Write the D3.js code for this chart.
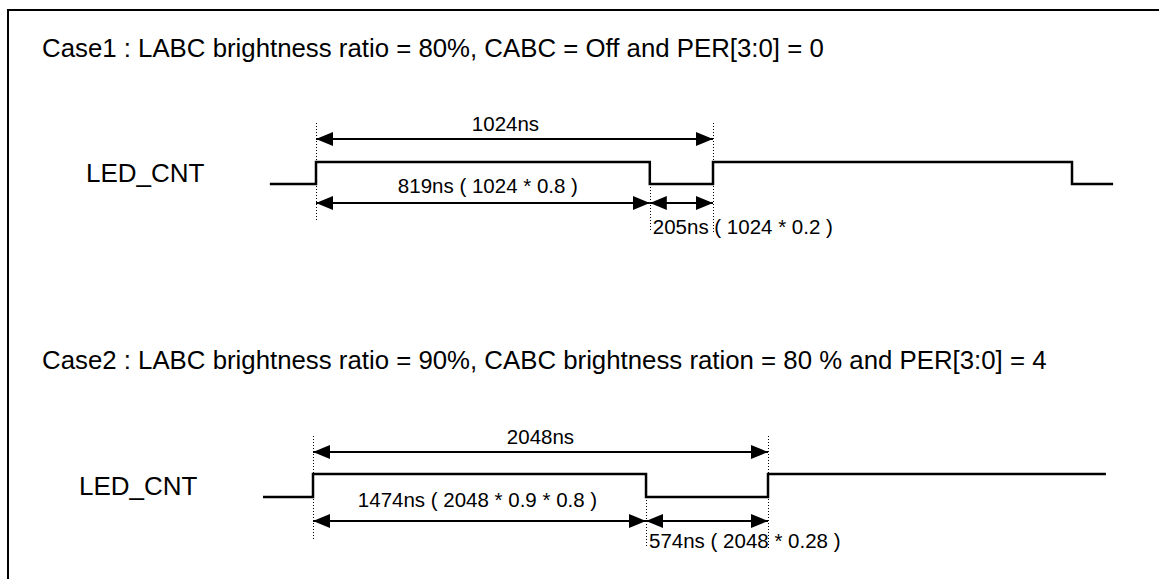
<!DOCTYPE html>
<html>
<head>
  <title>LED_CNT timing</title>
  <style>
    body { margin: 0; background: #fff; }
    svg text { font-family: "Liberation Sans", Arial, sans-serif; fill: #000; }
  </style>
</head>
<body>
<svg width="1159" height="579" class="svg-timing"></svg>
<script src="https://cdnjs.cloudflare.com/ajax/libs/d3/7.8.5/d3.min.js"></script>
<script type="text/javascript">
  // titles of the two cases
  var titles = ['Case1 : LABC brightness ratio = 80%, CABC = Off and PER[3:0] = 0',
                'Case2 : LABC brightness ratio = 90%, CABC brightness ration = 80 % and PER[3:0] = 4']
  var signal = 'LED_CNT'

  // one period of the PWM, in ns
  var periods = [1024, 2048]

  // waveform edges as drawn (ns from the first rising edge) and level after each edge
  var edges1 = [-119, 0, 861, 1024, 1950, 2056]
  var levels1 = [0, 1, 0, 1, 0, 0]
  var edges2 = [-225, 0, 1499, 2048, 3569]
  var levels2 = [0, 1, 0, 1, 1]

  // dimension arrows : [from, to] in ns as drawn, and the labels
  var spans1 = [[0, 1024], [0, 861], [861, 1024]]
  var labels1 = ['1024ns', '819ns ( 1024 * 0.8 )', '205ns ( 1024 * 0.2 )']
  var spans2 = [[0, 2048], [0, 1499], [1499, 2048]]
  var labels2 = ['2048ns', '1474ns ( 2048 * 0.9 * 0.8 )', '574ns ( 2048 * 0.28 )']

  var svg = d3.select('.svg-timing')

  // frame, only top and left are visible
  svg.append('path')
    .attr('d', 'M8,579 V10 H1159')
    .attr('fill', 'none')
    .attr('stroke', '#000')
    .attr('stroke-width', 2)

  var defs = svg.append('defs')
  defs.append('marker')
    .attr('id', 'head')
    .attr('viewBox', '0 0 17 14')
    .attr('refX', 17).attr('refY', 7)
    .attr('markerWidth', 17).attr('markerHeight', 14)
    .attr('markerUnits', 'userSpaceOnUse')
    .attr('orient', 'auto-start-reverse')
    .append('path')
    .attr('d', 'M0,0 L17,7 L0,14 Z')
    .attr('fill', '#000')

  var cases = [
    {title: titles[0], titleY: 57, period: periods[0], range: [316, 713],
     edges: edges1, levels: levels1, high: 162, low: 184, signalX: 86,
     spans: spans1, labels: labels1, arrowY: [139, 203], labelY: [131, 193, 234],
     labelDx: [-9, 5, 3]},
    {title: titles[1], titleY: 369, period: periods[1], range: [313, 768],
     edges: edges2, levels: levels2, high: 474, low: 497, signalX: 79,
     spans: spans2, labels: labels2, arrowY: [452, 521], labelY: [444, 507, 548],
     labelDx: [0, -2, 3]}
  ]

  cases.forEach(function(c){
    var x = d3.scaleLinear().domain([0, c.period]).range(c.range)
    var y = d3.scaleOrdinal().domain([0, 1]).range([c.low, c.high])
    var g = svg.append('g')

    g.append('text')
      .attr('x', 42).attr('y', c.titleY)
      .style('font-size', '25.8px')
      .text(c.title)

    g.append('text')
      .attr('x', c.signalX).attr('y', (c.high + c.low) / 2 + 9)
      .style('font-size', '26px')
      .text(signal)

    // step waveform
    var wave = [[x(c.edges[0]), y(c.levels[0])]]
    for (var i = 1; i < c.edges.length; i++) {
      wave.push([x(c.edges[i]), y(c.levels[i - 1])])
      wave.push([x(c.edges[i]), y(c.levels[i])])
    }
    g.append('path')
      .attr('d', d3.line()(wave))
      .attr('fill', 'none')
      .attr('stroke', '#000')
      .attr('stroke-width', 2.5)

    // dotted guides at 0, the falling edge and the period
    var top = c.arrowY[0] - 16
    var guides = [[0, top, c.arrowY[1] + 19],
                  [c.spans[1][1], c.low, c.arrowY[1] + 27],
                  [c.period, top, c.arrowY[1] + 29]]
    g.selectAll('line.guide')
      .data(guides)
      .enter()
      .append('line')
      .attr('class', 'guide')
      .attr('x1', function(d){ return Math.round(x(d[0])) + 0.5 })
      .attr('x2', function(d){ return Math.round(x(d[0])) + 0.5 })
      .attr('y1', function(d){ return d[1] })
      .attr('y2', function(d){ return d[2] })
      .attr('stroke', '#000')
      .attr('stroke-width', 1)
      .attr('stroke-dasharray', '1,2')

    // dimension arrows
    var rows = [c.arrowY[0], c.arrowY[1], c.arrowY[1]]
    g.selectAll('line.dim')
      .data(c.spans)
      .enter()
      .append('line')
      .attr('class', 'dim')
      .attr('x1', function(d){ return x(d[0]) })
      .attr('x2', function(d){ return x(d[1]) })
      .attr('y1', function(d, i){ return rows[i] })
      .attr('y2', function(d, i){ return rows[i] })
      .attr('stroke', '#000')
      .attr('stroke-width', 2)
      .attr('marker-start', 'url(#head)')
      .attr('marker-end', 'url(#head)')

    g.selectAll('text.lbl')
      .data(c.labels)
      .enter()
      .append('text')
      .attr('class', 'lbl')
      .attr('x', function(d, i){
        var s = c.spans[i]
        var base = i < 2 ? (x(s[0]) + x(s[1])) / 2 : x(s[0])
        return base + c.labelDx[i]
      })
      .attr('y', function(d, i){ return c.labelY[i] })
      .attr('text-anchor', function(d, i){ return i < 2 ? 'middle' : 'start' })
      .style('font-size', '20.5px')
      .text(function(d){ return d })
  })
</script>
</body>
</html>
